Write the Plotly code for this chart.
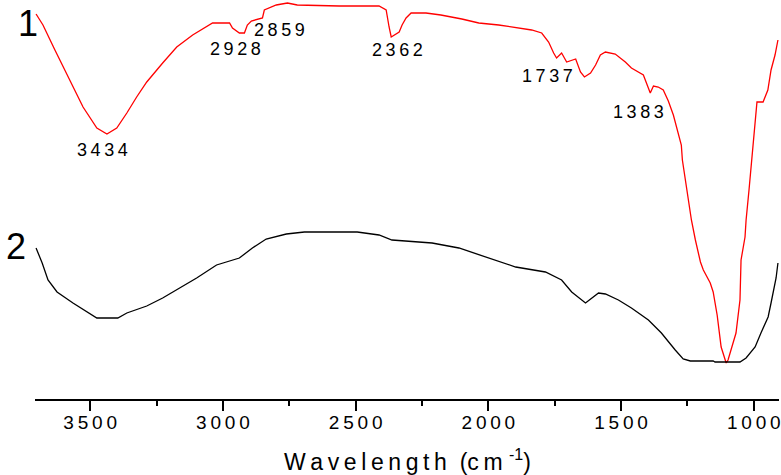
import plotly.graph_objects as go

TS = "\u2009"  # thin space used for letter spacing

# Curve 1 (red): wavenumber (cm-1) and relative transmittance (offset units)
wn1 = [3704, 3678, 3633, 3576, 3527, 3475, 3437, 3400, 3362, 3325, 3287, 3227, 3174, 3114,
       3062, 3039, 2975, 2964, 2938, 2919, 2908, 2893, 2851, 2844, 2799, 2757, 2720, 2562,
       2412, 2385, 2374, 2366, 2336, 2325, 2310, 2291, 2235, 2179, 2100, 2036, 1961, 1886,
       1837, 1799, 1773, 1754, 1743, 1724, 1705, 1671, 1653, 1638, 1615, 1596, 1578, 1559,
       1522, 1484, 1461, 1416, 1405, 1390, 1378, 1360, 1341, 1322, 1303, 1292, 1273, 1269,
       1258, 1246, 1235, 1220, 1201, 1190, 1164, 1153, 1138, 1123, 1108, 1104, 1097, 1085,
       1067, 1052, 1048, 1033, 1029, 1018, 1007, 995, 988, 965, 947, 935, 920, 909]
t1 = [96.25, 93.5, 87.25, 79.75, 73.0, 67.75, 66.25, 67.75, 71.5, 75.5, 79.25, 84.0, 88.0, 91.0,
      93.0, 94.0, 94.0, 92.75, 91.5, 91.5, 93.5, 94.5, 95.25, 97.25, 98.5, 99.0, 98.5, 98.25,
      98.25, 97.25, 93.0, 90.5, 91.75, 93.5, 95.25, 96.5, 96.5, 96.0, 95.0, 94.0, 93.5, 92.75,
      92.25, 91.5, 89.25, 86.5, 85.25, 86.5, 84.25, 85.0, 81.75, 80.5, 81.5, 83.5, 86.0, 86.75,
      86.25, 84.25, 82.75, 81.0, 79.25, 76.5, 78.25, 78.0, 77.25, 74.5, 71.0, 68.0, 63.5, 59.75,
      54.75, 49.75, 44.75, 39.75, 34.25, 32.25, 29.0, 26.75, 21.0, 13.0, 9.75, 9.0, 9.75, 12.25,
      16.5, 24.75, 34.75, 40.5, 44.75, 52.25, 59.75, 68.0, 74.25, 74.25, 77.25, 82.25, 86.0, 89.75]

# Curve 2 (black)
wn2 = [3704, 3681, 3659, 3625, 3565, 3501, 3475, 3396, 3362, 3287, 3227, 3163, 3099, 3024,
       2938, 2889, 2837, 2761, 2693, 2494, 2412, 2363, 2273, 2212, 2111, 2010, 1897, 1785,
       1724, 1686, 1634, 1585, 1559, 1510, 1461, 1397, 1348, 1296, 1266, 1239, 1153, 1146,
       1052, 1029, 995, 973, 946, 935, 924, 916, 909]
t2 = [37.75, 34.0, 29.75, 26.75, 24.0, 21.25, 20.25, 20.25, 21.5, 23.25, 25.25, 27.75, 30.25, 33.5,
      35.25, 37.75, 40.0, 41.25, 41.75, 41.75, 41.0, 39.75, 39.25, 39.0, 37.75, 35.5, 33.0, 31.75,
      29.75, 26.75, 24.0, 26.5, 26.25, 24.75, 22.75, 19.75, 16.5, 12.25, 10.0, 9.5, 9.5, 9.25,
      9.25, 10.25, 13.0, 16.5, 20.5, 24.0, 27.25, 30.25, 34.0]

# Peak labels
peak_labels = ["3434", "2928", "2859", "2362", "1737", "1383"]
peak_x = [3452, 2953, 2787, 2344, 1777, 1435]
peak_y = [62.25, 87.5, 92.25, 87.25, 80.75, 71.75]

# Curve numbers (placed in the left margin, paper coordinates)
curve_names = ["1", "2"]
curve_name_px = [-0.009, -0.025]
curve_name_py = [0.942, 0.383]

tick_vals = [3500, 3000, 2500, 2000, 1500, 1000]
tick_text = [TS.join(str(v)) for v in tick_vals]

x_title = TS.join("Wavelength") + "  (" + TS.join("cm") + " <sup>-1</sup>)"

fig = go.Figure()
fig.add_trace(go.Scatter(x=wn1, y=t1, mode="lines",
                         line=dict(color="#ff0000", width=1.3), showlegend=False))
fig.add_trace(go.Scatter(x=wn2, y=t2, mode="lines",
                         line=dict(color="#000000", width=1.3), showlegend=False))

for lab, x, y in zip(peak_labels, peak_x, peak_y):
    fig.add_annotation(x=x, y=y, xref="x", yref="y", text=TS.join(lab), showarrow=False,
                       font=dict(family="Liberation Sans, Arial", size=18, color="black"),
                       xanchor="center", yanchor="middle")

for lab, x, y in zip(curve_names, curve_name_px, curve_name_py):
    fig.add_annotation(x=x, y=y, xref="paper", yref="paper", text=lab, showarrow=False,
                       font=dict(family="Liberation Sans, Arial", size=36, color="black"),
                       xanchor="center", yanchor="middle")

# axis title placed as an annotation below the axis
fig.add_annotation(x=0.5, y=-0.154, xref="paper", yref="paper", text=x_title,
                   showarrow=False, xanchor="center", yanchor="middle",
                   font=dict(family="Liberation Sans, Arial", size=23, color="black"))

fig.update_layout(
    width=781, height=475,
    margin=dict(l=35, r=0, t=0, b=76),
    paper_bgcolor="white", plot_bgcolor="white",
    font=dict(family="Liberation Sans, Arial", color="black"),
    xaxis=dict(
        range=[3708, 905], autorange=False,
        showline=True, linewidth=2, linecolor="black",
        ticks="outside", ticklen=10, tickwidth=2, tickcolor="black",
        tickvals=tick_vals, ticktext=tick_text,
        tickfont=dict(size=19, family="Liberation Sans, Arial", color="black"),
        ticklabeloverflow="allow",
        ticklabelstandoff=-5,
        minor=dict(dtick=250, ticks="outside", ticklen=5, tickwidth=2, tickcolor="black",
                   showgrid=False),
        showgrid=False, zeroline=False,
    ),
    yaxis=dict(range=[0, 99.75], autorange=False, visible=False, fixedrange=True),
)

fig.write_html("out.html")
